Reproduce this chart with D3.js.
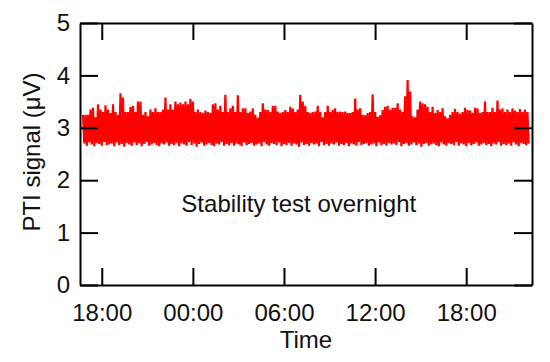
<!DOCTYPE html>
<html>
<head>
<meta charset="utf-8">
<script src="https://cdn.jsdelivr.net/npm/d3@7"></script>
<style>
  body { margin: 0; background: #fff; }
  svg { display: block; }
  text { font-family: "Liberation Sans", Arial, sans-serif; }
</style>
</head>
<body>
<div id="chart"></div>
<script>
// Upper excursions of the PTI trace, read left to right (µV)
const peakValues = [
  3.25, 3.25, 3.25, 3.35, 3.38, 3.2, 3.45, 3.35, 3.3, 3.43,
  3.35, 3.28, 3.45, 3.3, 3.25, 3.66, 3.58, 3.3, 3.3, 3.4,
  3.42, 3.3, 3.5, 3.5, 3.25, 3.3, 3.22, 3.35, 3.3, 3.37,
  3.3, 3.3, 3.35, 3.58, 3.35, 3.45, 3.35, 3.5, 3.45, 3.48,
  3.45, 3.5, 3.45, 3.55,
  3.5, 3.3, 3.35, 3.3, 3.28, 3.33, 3.3, 3.28, 3.45, 3.47,
  3.35, 3.42, 3.3, 3.63, 3.3, 3.37, 3.42, 3.3, 3.62, 3.3,
  3.37, 3.37, 3.28, 3.31, 3.37, 3.25, 3.19, 3.3, 3.47, 3.35,
  3.34, 3.3, 3.42, 3.42, 3.31, 3.28, 3.3, 3.34, 3.3, 3.4,
  3.37, 3.3, 3.35, 3.63, 3.5,
  3.42, 3.3, 3.28, 3.3, 3.31, 3.42, 3.3, 3.2, 3.3, 3.42,
  3.3, 3.34, 3.37, 3.3, 3.31, 3.3, 3.31, 3.28, 3.28, 3.3,
  3.56, 3.35, 3.37, 3.25, 3.24, 3.28, 3.3, 3.64, 3.3, 3.21,
  3.24, 3.34, 3.4, 3.42, 3.35, 3.38, 3.38, 3.47, 3.35, 3.3,
  3.6, 3.91, 3.69, 3.22, 3.2,
  3.35, 3.5, 3.47, 3.45, 3.4, 3.3, 3.4, 3.28, 3.34, 3.3,
  3.37, 3.22, 3.18, 3.25, 3.3, 3.36, 3.3, 3.27, 3.3, 3.38,
  3.34, 3.33, 3.28, 3.38, 3.37, 3.28, 3.3, 3.5, 3.3, 3.3,
  3.38, 3.3, 3.52, 3.35, 3.37, 3.3, 3.35, 3.3, 3.37, 3.33,
  3.3, 3.36, 3.3, 3.35, 3.3
];

// Lower excursions of the trace, same samples (µV)
const baseValues = [
  2.70, 2.66, 2.72, 2.68, 2.65, 2.71, 2.69, 2.66, 2.73, 2.67,
  2.68, 2.70, 2.65, 2.72, 2.67, 2.69, 2.64, 2.71, 2.68, 2.66,
  2.72, 2.67, 2.70, 2.65, 2.69, 2.73, 2.66, 2.68, 2.71, 2.67,
  2.65, 2.70, 2.68, 2.72, 2.66, 2.69, 2.67, 2.71, 2.65, 2.70,
  2.68, 2.66, 2.73, 2.67, 2.70, 2.64, 2.69, 2.72, 2.66, 2.68,
  2.71, 2.67, 2.65, 2.70, 2.68, 2.73, 2.66, 2.69, 2.67, 2.71,
  2.66, 2.70, 2.68, 2.65, 2.72, 2.67, 2.69, 2.71, 2.66, 2.68,
  2.70, 2.65, 2.73, 2.68, 2.66, 2.71, 2.69, 2.67, 2.72, 2.65,
  2.69, 2.67, 2.71, 2.66, 2.70, 2.68, 2.64, 2.72, 2.67, 2.69,
  2.66, 2.71, 2.68, 2.70, 2.65, 2.73, 2.67, 2.69, 2.66, 2.70,
  2.68, 2.72, 2.66, 2.69, 2.67, 2.71, 2.65, 2.70, 2.68, 2.66,
  2.73, 2.67, 2.69, 2.71, 2.66, 2.68, 2.70, 2.65, 2.72, 2.67,
  2.69, 2.66, 2.71, 2.68, 2.70, 2.67, 2.73, 2.65, 2.69, 2.71,
  2.66, 2.68, 2.72, 2.67, 2.70, 2.64, 2.69, 2.71, 2.66, 2.68,
  2.70, 2.67, 2.65, 2.72, 2.68, 2.66, 2.71, 2.69, 2.67, 2.73,
  2.66, 2.70, 2.68, 2.65, 2.71, 2.67, 2.69, 2.72, 2.66, 2.68,
  2.71, 2.67, 2.69, 2.65, 2.70, 2.68, 2.73, 2.66, 2.69, 2.67,
  2.70, 2.66, 2.72, 2.68, 2.65, 2.71, 2.69, 2.67, 2.70
];

// Recording window (samples evenly spaced between these)
const firstSample = new Date(2000, 0, 1, 16, 46);
const lastSample = new Date(2000, 0, 2, 22, 2);

const timeDomain = [new Date(2000, 0, 1, 16, 34), new Date(2000, 0, 2, 22, 20)];
const timeTicks = [
  new Date(2000, 0, 1, 18, 0),
  new Date(2000, 0, 2, 0, 0),
  new Date(2000, 0, 2, 6, 0),
  new Date(2000, 0, 2, 12, 0),
  new Date(2000, 0, 2, 18, 0)
];
const signalTicks = [0, 1, 2, 3, 4, 5];

const width = 550;
const height = 362;
const margin = { top: 23, right: 18, bottom: 77, left: 80 };
const fontSize = 24;

const svg = d3.select("#chart")
  .append("svg")
  .attr("width", width)
  .attr("height", height);

const x = d3.scaleTime()
  .domain(timeDomain)
  .range([margin.left, width - margin.right]);

const y = d3.scaleLinear()
  .domain([0, 5])
  .range([height - margin.bottom, margin.top]);

// sample index -> time
const n = peakValues.length;
const sampleTime = d3.scaleLinear()
  .domain([0, n - 1])
  .range([firstSample.getTime(), lastSample.getTime()]);

// zigzag between upper and lower excursions
const trace = [];
for (let i = 0; i < n; i++) {
  trace.push({ t: sampleTime(i), v: peakValues[i] });
  if (i < baseValues.length) {
    trace.push({ t: sampleTime(i + 0.5), v: baseValues[i] });
  }
}

const line = d3.line()
  .x((d) => x(d.t))
  .y((d) => y(d.v));

svg.append("path")
  .datum(trace)
  .attr("fill", "none")
  .attr("stroke", "#ff0000")
  .attr("stroke-width", 2.2)
  .attr("stroke-linejoin", "bevel")
  .attr("d", line);

// Axes, ticks pointing inward on all four sides
function styleAxis(g) {
  g.attr("font-size", fontSize)
    .attr("font-family", "'Liberation Sans', Arial, sans-serif");
  g.select(".domain").attr("stroke", "#000").attr("stroke-width", 2);
  g.selectAll(".tick line").attr("stroke", "#000").attr("stroke-width", 2);
  g.selectAll(".tick text").attr("fill", "#111");
}

svg.append("g")
  .attr("transform", `translate(0,${height - margin.bottom})`)
  .call(d3.axisBottom(x)
    .tickValues(timeTicks)
    .tickFormat(d3.timeFormat("%H:%M"))
    .tickSizeInner(-17)
    .tickSizeOuter(0)
    .tickPadding(19))
  .call(styleAxis);

svg.append("g")
  .attr("transform", `translate(0,${margin.top})`)
  .call(d3.axisTop(x)
    .tickValues(timeTicks)
    .tickFormat("")
    .tickSizeInner(-17)
    .tickSizeOuter(0))
  .call(styleAxis);

svg.append("g")
  .attr("transform", `translate(${margin.left},0)`)
  .call(d3.axisLeft(y)
    .tickValues(signalTicks)
    .tickFormat(d3.format("d"))
    .tickSizeInner(-18)
    .tickSizeOuter(0)
    .tickPadding(10))
  .call(styleAxis);

svg.append("g")
  .attr("transform", `translate(${width - margin.right},0)`)
  .call(d3.axisRight(y)
    .tickValues(signalTicks)
    .tickFormat("")
    .tickSizeInner(-18)
    .tickSizeOuter(0))
  .call(styleAxis);

// Axis titles
svg.append("text")
  .attr("x", (margin.left + width - margin.right) / 2)
  .attr("y", 348)
  .attr("text-anchor", "middle")
  .attr("font-size", fontSize)
  .attr("fill", "#111")
  .text("Time");

svg.append("text")
  .attr("transform", `translate(40,${(margin.top + height - margin.bottom) / 2 - 2}) rotate(-90)`)
  .attr("text-anchor", "middle")
  .attr("font-size", fontSize)
  .attr("fill", "#111")
  .text("PTI signal (\u03BCV)");

// Annotation inside the plot
svg.append("text")
  .attr("x", margin.left + (width - margin.left - margin.right) * 0.484)
  .attr("y", 212)
  .attr("text-anchor", "middle")
  .attr("font-size", fontSize)
  .attr("fill", "#111")
  .text("Stability test overnight");
</script>
</body>
</html>
